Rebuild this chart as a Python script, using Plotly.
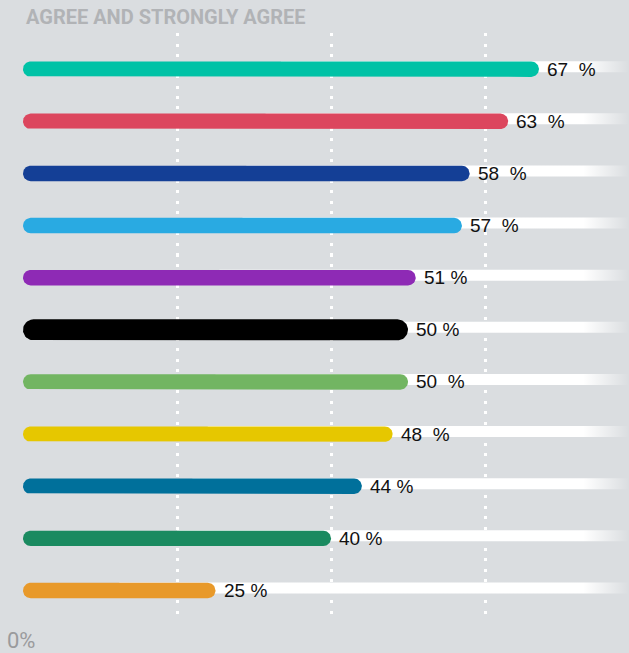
import math
import plotly.graph_objects as go

# Share of respondents who agree or strongly agree, one row per group (top to bottom)
VALUES = [67, 63, 58, 57, 51, 50, 50, 48, 44, 40, 25]
COLORS = ["#00c2a6", "#dc465e", "#143f96", "#29aae2", "#8e2ab5", "#000000",
          "#72b562", "#e6c700", "#00709b", "#1a8a60", "#e8992a"]
# spacing between number and percent sign in each value label
SEPARATORS = ["\u00a0 ", "\u00a0 ", "\u00a0 ", "\u00a0 ", " ", " ",
              "\u00a0 ", "\u00a0 ", " ", " ", " "]
TITLE = "AGREE AND STRONGLY AGREE"
AXIS_START_LABEL = "0%"
GRID_VALUES = [20, 40, 60]

BG = "#dadde0"
W, H = 629, 653
M_L, M_R, M_T, M_B = 23, 0, 33, 33
PX_PER_X = 7.7                       # pixels per percentage point
XMAX = (W - M_L - M_R) / PX_PER_X
Y_RANGE = [10.566, -0.694]           # reversed so the first row sits on top
PX_PER_Y = (H - M_T - M_B) / (Y_RANGE[0] - Y_RANGE[1])

# bar thickness in pixels (the black row is drawn heavier)
THICK_PX = [21 if c == "#000000" else 15.4 for c in COLORS]


def capsule(x_end, row, thick_px, n=24):
    """Outline of a bar from 0 to x_end with semicircular caps, in data units."""
    r = thick_px / 2
    rx, ry = r / PX_PER_X, r / PX_PER_Y
    xs, ys = [], []
    # right cap, top to bottom
    for k in range(n + 1):
        a = math.pi / 2 - math.pi * k / n
        xs.append(x_end - rx + rx * math.cos(a))
        ys.append(row - ry * math.sin(a))
    # left cap, bottom to top
    for k in range(n + 1):
        a = -math.pi / 2 - math.pi * k / n
        xs.append(rx + rx * math.cos(a))
        ys.append(row - ry * math.sin(a))
    xs.append(xs[0])
    ys.append(ys[0])
    return xs, ys


fig = go.Figure()

# white tracks behind each bar, fading out toward the right edge
for i, v in enumerate(VALUES):
    top, bot = i - 8 / PX_PER_Y, i + 3 / PX_PER_Y
    x0 = 0.5 * v
    fig.add_trace(go.Scatter(
        x=[x0, XMAX, XMAX, x0, x0], y=[top, top, bot, bot, top],
        mode="lines", fill="toself",
        line=dict(width=0, color="rgba(0,0,0,0)"),
        fillgradient=dict(
            type="horizontal", start=0, stop=XMAX,
            colorscale=[[0, "rgba(255,255,255,1)"], [0.925, "rgba(255,255,255,1)"],
                        [1, "rgba(255,255,255,0)"]]),
        hoverinfo="skip", showlegend=False))

# coloured rounded bars
for i, (v, c, t) in enumerate(zip(VALUES, COLORS, THICK_PX)):
    xs, ys = capsule(v, i, t)
    fig.add_trace(go.Scatter(
        x=xs, y=ys, mode="lines", fill="toself", fillcolor=c,
        line=dict(width=0, color=c), hoverinfo="skip", showlegend=False))

annotations = []
for i, (v, sep) in enumerate(zip(VALUES, SEPARATORS)):
    annotations.append(dict(
        x=v, y=i, xref="x", yref="y", text=f"{v}{sep}%", showarrow=False,
        xanchor="left", yanchor="middle", xshift=6, yshift=0,
        font=dict(family="Liberation Sans, Arial, sans-serif", size=19, color="#111111")))

annotations.append(dict(
    x=0, y=1, xref="paper", yref="paper", text=f"<b>{TITLE}</b>", showarrow=False,
    xanchor="left", yanchor="middle", xshift=1, yshift=16,
    font=dict(family="Roboto, sans-serif", size=20, color="#b1b3b6")))
annotations.append(dict(
    x=0, y=0, xref="paper", yref="paper", text=AXIS_START_LABEL, showarrow=False,
    xanchor="left", yanchor="middle", xshift=-17, yshift=-20, borderpad=0,
    font=dict(family="Roboto, sans-serif", size=22, color="#9a9b9d")))

fig.update_layout(
    width=W, height=H,
    margin=dict(l=M_L, r=M_R, t=M_T, b=M_B),
    paper_bgcolor=BG, plot_bgcolor=BG,
    showlegend=False,
    annotations=annotations,
    xaxis=dict(range=[0, XMAX], tickmode="array", tickvals=GRID_VALUES,
               showticklabels=False, ticks="", showgrid=True, gridcolor="#ffffff",
               gridwidth=2.5, griddash="3px,7.5px", zeroline=False, showline=False,
               fixedrange=True),
    yaxis=dict(range=Y_RANGE, showticklabels=False, ticks="", showgrid=False,
               zeroline=False, showline=False, fixedrange=True),
)

fig.write_html("out.html", config={"displayModeBar": False})
